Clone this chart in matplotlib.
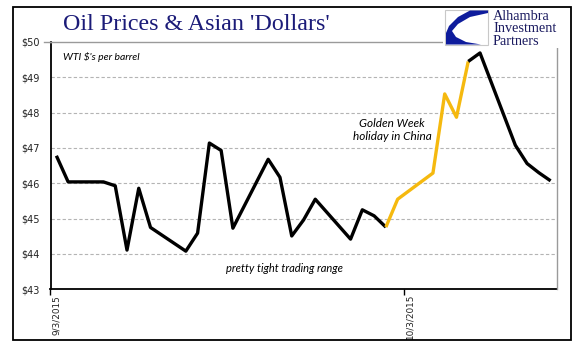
import matplotlib
matplotlib.use("Agg")
import matplotlib.pyplot as plt
import matplotlib.transforms as mtransforms
from matplotlib.patches import Rectangle, Polygon
import numpy as np
import pandas as pd

# ---- data ----
dates = ["2015-09-03", "2015-09-04", "2015-09-07", "2015-09-08", "2015-09-09",
         "2015-09-10", "2015-09-11", "2015-09-14", "2015-09-15", "2015-09-16",
         "2015-09-17", "2015-09-18", "2015-09-21", "2015-09-22", "2015-09-23",
         "2015-09-24", "2015-09-25", "2015-09-28", "2015-09-29", "2015-09-30",
         "2015-10-01", "2015-10-02", "2015-10-05", "2015-10-06", "2015-10-07",
         "2015-10-08", "2015-10-09", "2015-10-12", "2015-10-13", "2015-10-14",
         "2015-10-15"]
prices = [46.78, 46.04, 46.04, 45.93, 44.11,
          45.86, 44.75, 44.08, 44.59, 47.14,
          46.93, 44.73, 46.68, 46.17, 44.51,
          44.96, 45.55, 44.42, 45.25, 45.08,
          44.76, 45.55, 46.29, 48.53, 47.87,
          49.45, 49.69, 47.08, 46.56, 46.30,
          46.07]
golden_week = ("2015-10-01", "2015-10-08")
y_ticks = [43, 44, 45, 46, 47, 48, 49, 50]
x_tick_labels = ["9/3/2015", "10/3/2015"]
x_ticks = ["2015-09-03", "2015-10-03"]
x_range = ("2015-09-03", "2015-10-16")

title = "Oil Prices & Asian 'Dollars'"
subtitle = "WTI $'s per barrel"
note_gw = "Golden Week\nholiday in China"
note_range = "pretty tight trading range"
logo_words = ["Alhambra", "Investment", "Partners"]

W, H = 577, 361
DPI = 100
fig = plt.figure(figsize=(W / DPI, H / DPI), dpi=DPI)
fig.patch.set_facecolor("white")

def fx(x):
    return x / W

def fy(y):
    return 1 - y / H

L, R, T, B = 50.5, 556.5, 42.0, 289.3
ax = fig.add_axes([fx(L), fy(B), fx(R) - fx(L), fy(T) - fy(B)])

d = pd.to_datetime(dates) + pd.Timedelta(hours=12)
p = np.array(prices)
gs, ge = pd.Timestamp(golden_week[0]), pd.Timestamp(golden_week[1])
day = pd.to_datetime(dates)
m_before = day <= gs
m_gw = (day >= gs) & (day <= ge)
m_after = day >= ge

kw = dict(lw=2.4, solid_joinstyle="round", solid_capstyle="butt", zorder=3)
ax.plot(d[m_before], p[m_before], color="black", **kw)
ax.plot(d[m_gw], p[m_gw], color="#F5B90F", **kw)
ax.plot(d[m_after], p[m_after], color="black", **kw)

ax.set_xlim(pd.Timestamp(x_range[0]), pd.Timestamp(x_range[1]))
ax.set_ylim(43, 50)
ax.set_yticks(y_ticks)
ax.set_yticklabels([f"${v}" for v in y_ticks], fontsize=7, family="DejaVu Sans",
                   color="#222222")
ax.set_xticks(pd.to_datetime(x_ticks))
ax.set_xticklabels([])

# rotated date labels, shifted right of their ticks as in the reference
lab_tr = mtransforms.blended_transform_factory(ax.transData, ax.transAxes) + \
    mtransforms.ScaledTranslation(6.5 / DPI, -5.5 / DPI, fig.dpi_scale_trans)
for xt, lab in zip(pd.to_datetime(x_ticks), x_tick_labels):
    ax.text(xt, 0, lab, transform=lab_tr, rotation=90, fontsize=6.4,
            family="DejaVu Sans", color="#222222", ha="center", va="top")

ax.tick_params(axis="y", length=0, pad=8)
ax.tick_params(axis="x", length=4, width=1, direction="out", color="black")

for v in y_ticks[1:-1]:
    ax.axhline(v, color="#b4b4b4", lw=0.8, ls=(0, (3, 2)), zorder=1)

for s in ["left", "bottom"]:
    ax.spines[s].set_color("black")
    ax.spines[s].set_linewidth(1.3)
for s in ["top", "right"]:
    ax.spines[s].set_color("#9a9a9a")
    ax.spines[s].set_linewidth(1.0)
fig.add_artist(plt.Line2D([fx(44), fx(L)], [fy(T), fy(T)], transform=fig.transFigure,
                          color="#9a9a9a", lw=1.0))

fig.text(fx(392), fy(130), note_gw, fontsize=8.5, style="italic",
         family=["Lato", "DejaVu Sans"], ha="center", va="center",
         linespacing=1.25)
fig.text(fx(284), fy(269), note_range, fontsize=8, style="italic",
         family=["Lato", "DejaVu Sans"], ha="center", va="center")
fig.text(fx(63), fy(24), title, fontsize=17.3, family="Liberation Serif",
         color="#1B1B78", ha="left", va="center")
fig.text(fx(63), fy(57), subtitle, fontsize=7.5, style="italic",
         family=["Lato", "DejaVu Sans"], ha="left", va="center")

# logo area (white cover)
fig.patches.append(Rectangle((fx(443), fy(48)), fx(568) - fx(443), fy(8) - fy(48),
                             transform=fig.transFigure, facecolor="white",
                             edgecolor="none", zorder=5))
fig.patches.append(Rectangle((fx(445), fy(45)), fx(488) - fx(445), fy(10) - fy(45),
                             transform=fig.transFigure, facecolor="white",
                             edgecolor="#c8c8c8", lw=0.8, zorder=6))
blue_pts = [(488, 10.5), (470, 10.5), (458, 17), (449, 26), (446, 33), (446, 44.5),
            (481, 44.5), (466, 42), (456, 37), (452, 31), (458, 24), (470, 17), (488, 13)]
fig.patches.append(Polygon([(fx(a), fy(b)) for a, b in blue_pts], closed=True,
                           transform=fig.transFigure, facecolor="#0E1C9C",
                           edgecolor="none", zorder=7))
for i, word in enumerate(logo_words):
    fig.text(fx(493), fy(16 + 12.8 * i), word, fontsize=10.3, family="Liberation Serif",
             color="#1B1B60", ha="left", va="center", zorder=8, linespacing=1.0)

# outer border
fig.patches.append(Rectangle((fx(13), fy(340)), fx(571) - fx(13), fy(7) - fy(340),
                             transform=fig.transFigure, facecolor="none",
                             edgecolor="black", lw=1.3, zorder=9))

fig.savefig("out.png", dpi=DPI)
